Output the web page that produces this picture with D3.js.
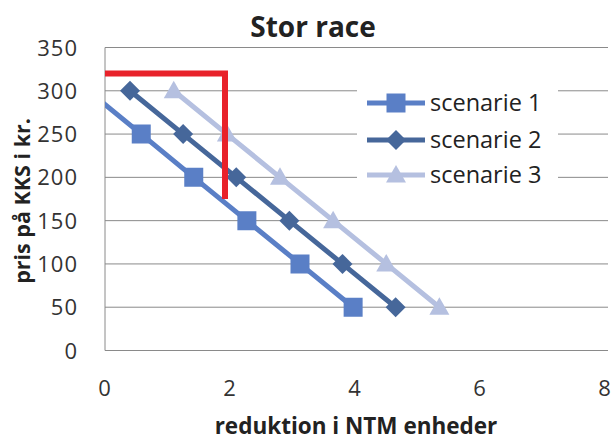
<!DOCTYPE html>
<html>
<head>
<meta charset="utf-8">
<script src="https://d3js.org/d3.v7.min.js"></script>
<style>
  body { margin: 0; background: #ffffff; }
  svg text { font-family: "Open Sans", "DejaVu Sans", sans-serif; }
  .grid line { stroke: #8a8a8a; stroke-width: 1; }
  .tick-label { fill: #333; font-size: 22px; letter-spacing: 1px; }
  .axis-title { fill: #222; font-weight: bold; }
</style>
</head>
<body>
<div id="chart"></div>
<script>
// data (x = reduktion, y = pris)
var yTicks = [0, 50, 100, 150, 200, 250, 300, 350];
var xTicks = [0, 2, 4, 6, 8];

var s1x = [-0.27, 0.58, 1.42, 2.27, 3.12, 3.97];
var s1y = [300, 250, 200, 150, 100, 50];
var s2x = [0.4, 1.25, 2.1, 2.95, 3.8, 4.65];
var s2y = [300, 250, 200, 150, 100, 50];
var s3x = [1.1, 1.95, 2.8, 3.65, 4.5, 5.35];
var s3y = [300, 250, 200, 150, 100, 50];

var seriesNames = ["scenarie 1", "scenarie 2", "scenarie 3"];
var seriesColors = ["#5a7fc6", "#46679a", "#b5c0e0"];

// red marker line
var redX = [0, 1.92, 1.92];
var redY = [320, 320, 175];

var width = 615, height = 441;
var x0 = 105, x1 = 605, y0 = 350.5, y1 = 47.5;

var svg = d3.select("#chart").append("svg")
    .attr("width", width)
    .attr("height", height);

var x = d3.scaleLinear().domain([0, 8]).range([x0, x1]);
var y = d3.scaleLinear().domain([0, 350]).range([y0, y1]);

// marker shapes: square, diamond (rotated square), triangle
function marker(i) {
  if (i == 0) return "M-9.5,-9.5H9.5V9.5H-9.5Z";
  if (i == 1) return "M0,-10L10,0L0,10L-10,0Z";
  return "M0,-10L10,7.5L-10,7.5Z";
}

// gridlines
svg.append("g").attr("class", "grid")
  .selectAll("line").data(yTicks).enter().append("line")
    .attr("x1", x0).attr("x2", x1 + 3)
    .attr("y1", function(d) { return y(d); })
    .attr("y2", function(d) { return y(d); });

// left axis line
svg.append("line")
    .attr("x1", x0).attr("x2", x0)
    .attr("y1", y1).attr("y2", y0)
    .attr("stroke", "#8a8a8a");

// tick labels
svg.selectAll(".ylab").data(yTicks).enter().append("text")
    .attr("class", "tick-label")
    .attr("x", 78)
    .attr("y", function(d) { return y(d) + 8; })
    .attr("text-anchor", "end")
    .text(function(d) { return d; });

svg.selectAll(".xlab").data(xTicks).enter().append("text")
    .attr("class", "tick-label")
    .attr("x", function(d) { return x(d); })
    .attr("y", 396)
    .attr("text-anchor", "middle")
    .text(function(d) { return d; });

// titles
svg.append("text")
    .attr("x", 313).attr("y", 37)
    .attr("text-anchor", "middle")
    .style("font-size", "28px").style("font-weight", "bold").style("fill", "#222")
    .text("Stor race");

svg.append("text")
    .attr("class", "axis-title")
    .attr("x", 356).attr("y", 434)
    .attr("text-anchor", "middle")
    .style("font-size", "22.5px")
    .text("reduktion i NTM enheder");

svg.append("text")
    .attr("class", "axis-title")
    .attr("transform", "translate(30,201) rotate(-90)")
    .attr("text-anchor", "middle")
    .style("font-size", "21.5px")
    .text("pris på KKS i kr.");

// clip so lines stop at the axes like Excel does
svg.append("clipPath").attr("id", "plotclip")
  .append("rect").attr("x", x0).attr("y", y1 - 20)
    .attr("width", x1 - x0).attr("height", y0 - y1 + 20);

var line = d3.line()
    .x(function(d) { return x(d[0]); })
    .y(function(d) { return y(d[1]); });

var allX = [s1x, s2x, s3x];
var allY = [s1y, s2y, s3y];

var plot = svg.append("g").attr("clip-path", "url(#plotclip)");

for (var i = 2; i >= 0; i--) {
  var pts = d3.zip(allX[i], allY[i]);
  plot.append("path")
      .datum(pts)
      .attr("fill", "none")
      .attr("stroke", seriesColors[i])
      .attr("stroke-width", 5)
      .attr("d", line);
  plot.selectAll(".m" + i).data(pts.filter(function(d) { return d[0] >= 0; }))
    .enter().append("path")
      .attr("transform", function(d) { return "translate(" + x(d[0]) + "," + y(d[1]) + ")"; })
      .attr("d", marker(i))
      .attr("fill", seriesColors[i]);
}

// red line
svg.append("path")
    .datum(d3.zip(redX, redY))
    .attr("fill", "none")
    .attr("stroke", "#e8222a")
    .attr("stroke-width", 6)
    .attr("d", line);

// legend
var legend = svg.append("g");
legend.append("rect")
    .attr("x", 357).attr("y", 83)
    .attr("width", 201).attr("height", 115)
    .attr("fill", "#ffffff");

var ly = [103, 140, 175];
seriesNames.forEach(function(name, i) {
  legend.append("line")
      .attr("x1", 367).attr("x2", 425)
      .attr("y1", ly[i]).attr("y2", ly[i])
      .attr("stroke", seriesColors[i]).attr("stroke-width", 5);
  legend.append("path")
      .attr("transform", "translate(396," + ly[i] + ")")
      .attr("d", marker(i))
      .attr("fill", seriesColors[i]);
  legend.append("text")
      .attr("x", 430).attr("y", ly[i] + 8)
      .style("font-size", "23.5px").style("fill", "#222")
      .text(name);
});
</script>
</body>
</html>
